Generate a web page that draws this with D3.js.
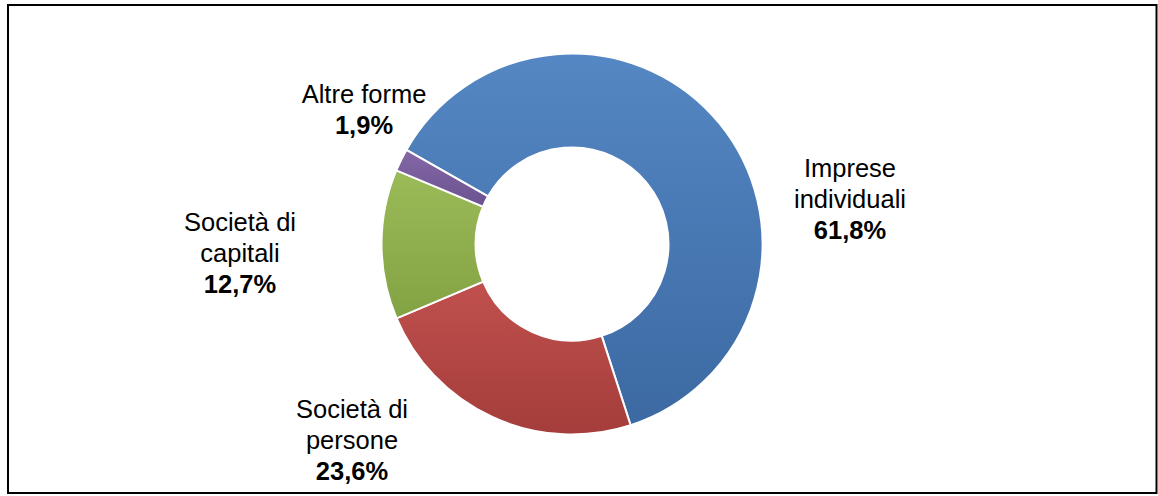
<!DOCTYPE html>
<html><head><meta charset="utf-8">
<script src="https://cdn.jsdelivr.net/npm/d3@7"></script>
<style>html,body{margin:0;padding:0;background:#fff;}svg{display:block;}</style>
</head><body>
<svg id="c" width="1158" height="496"></svg>
<script>
const categories = ["Imprese individuali", "Società di persone", "Società di capitali", "Altre forme"];
const labelLines = [["Imprese", "individuali"], ["Società di", "persone"], ["Società di", "capitali"], ["Altre forme"]];
const values = [61.8, 23.6, 12.7, 1.9];
const valueLabels = ["61,8%", "23,6%", "12,7%", "1,9%"];
const colorsTop = ["#5487C3", "#C0504D", "#9BBB59", "#8467A6"];
const colorsBottom = ["#3C69A2", "#A43D3B", "#83A243", "#6B5290"];

const svg = d3.select("#c");
svg.append("rect").attr("x", 8).attr("y", 5).attr("width", 1148.5).attr("height", 488)
  .attr("fill", "#fff").attr("stroke", "#000").attr("stroke-width", 2);

const cx = 572, cy = 244, R = 190.5, r = 96.5;
const defs = svg.append("defs");
categories.forEach((c, i) => {
  const g = defs.append("linearGradient").attr("id", "g" + i)
    .attr("x1", 0).attr("y1", 0).attr("x2", 0).attr("y2", 1);
  g.append("stop").attr("offset", "0%").attr("stop-color", colorsTop[i]);
  g.append("stop").attr("offset", "100%").attr("stop-color", colorsBottom[i]);
});

const start = -60.4 * Math.PI / 180;
const pie = d3.pie().sort(null).value(d => d).startAngle(start).endAngle(start + 2 * Math.PI);
const arc = d3.arc().innerRadius(r).outerRadius(R);
const arcs = pie(values);
const gp = svg.append("g").attr("transform", `translate(${cx},${cy})`);
gp.selectAll("path").data(arcs).enter().append("path")
  .attr("d", arc).attr("fill", (d, i) => `url(#g${i})`)
  .attr("stroke", "#fff").attr("stroke-width", 2);

const labelPos = [[850, 177], [352, 418], [240, 231], [364, 103]];
const lh = 31;
const fam = "'Liberation Sans', Arial, sans-serif";
categories.forEach((c, i) => {
  const [x, y] = labelPos[i];
  const t = svg.append("text").attr("text-anchor", "middle").attr("font-family", fam)
    .attr("font-size", 25.5).attr("fill", "#000");
  labelLines[i].forEach((ln, k) => {
    t.append("tspan").attr("x", x).attr("y", y + k * lh).text(ln);
  });
  t.append("tspan").attr("x", x).attr("y", y + labelLines[i].length * lh)
    .attr("font-weight", "bold").text(valueLabels[i]);
});
</script>
</body></html>
